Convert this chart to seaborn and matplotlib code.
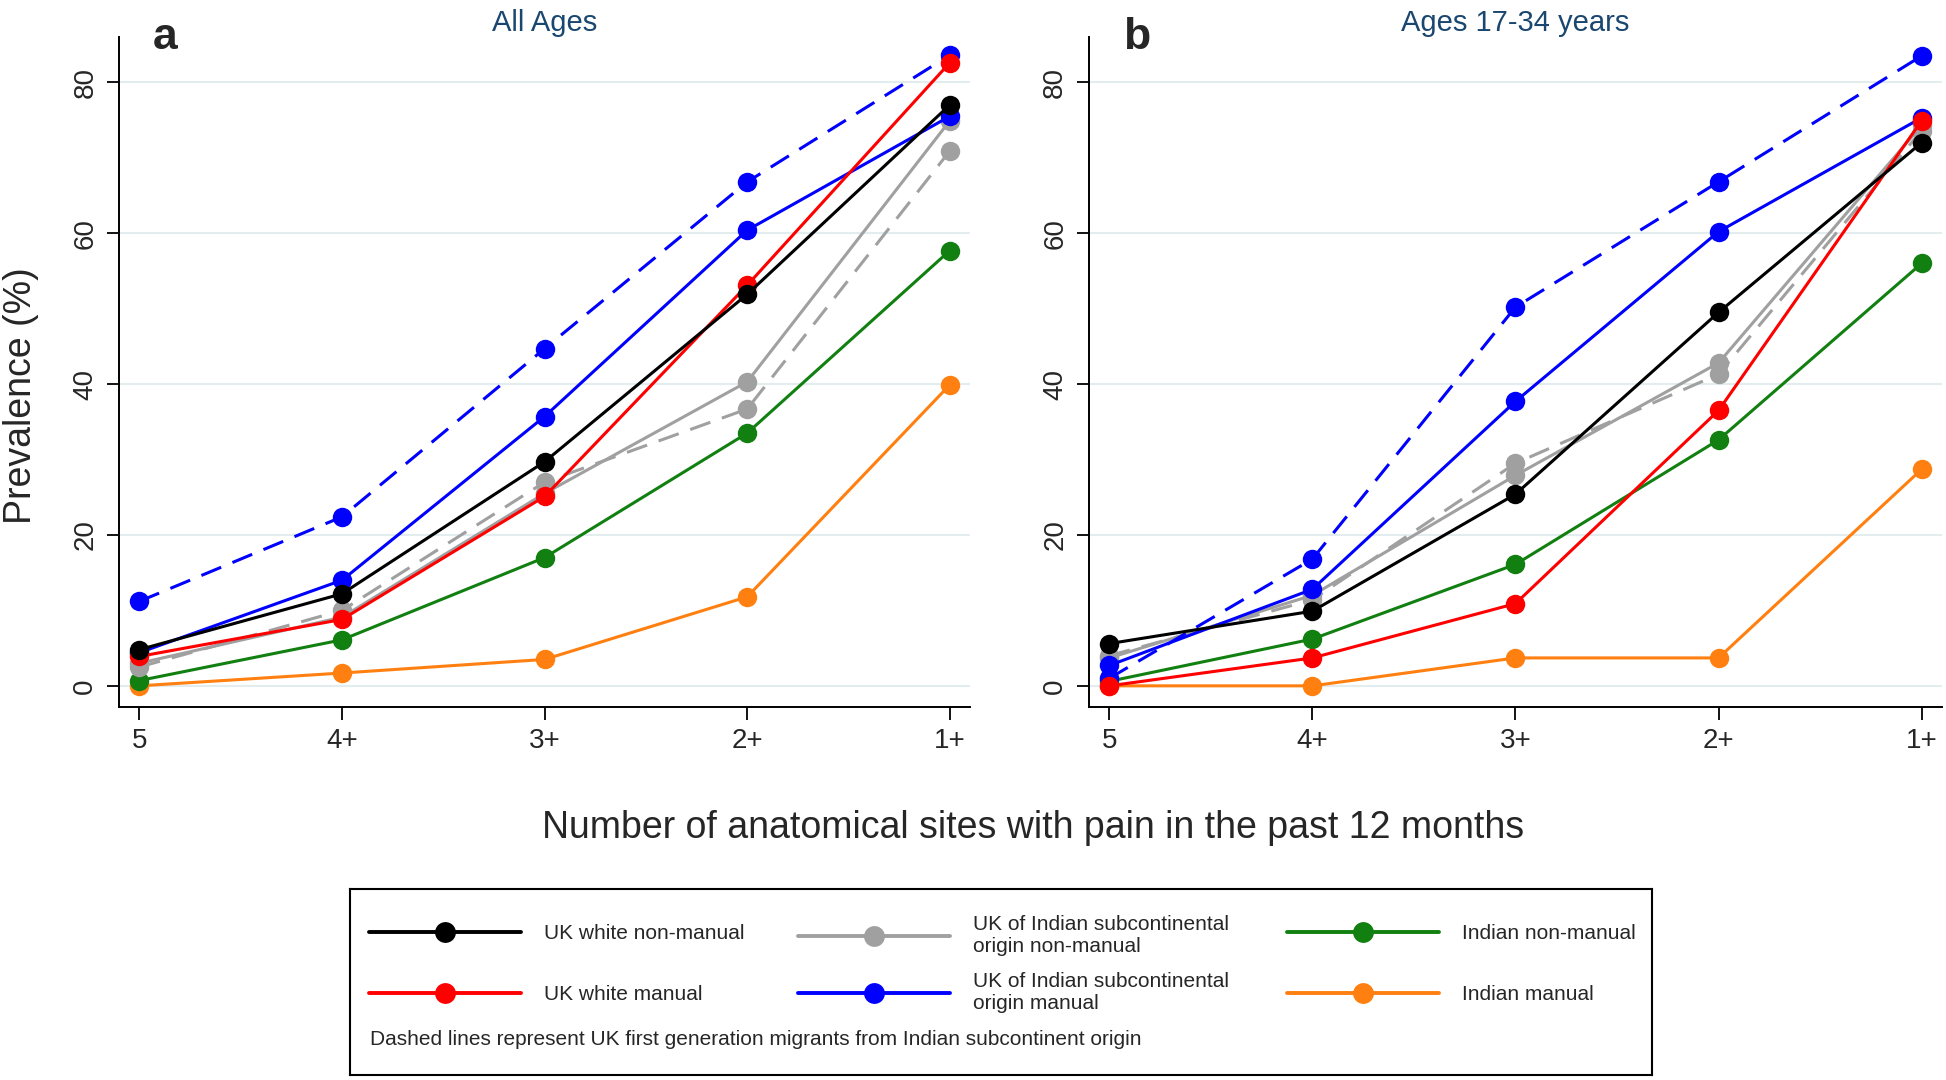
import matplotlib
matplotlib.use('Agg')
import matplotlib.pyplot as plt
import pandas as pd
import seaborn as sns
from matplotlib.lines import Line2D

sites = ['5', '4+', '3+', '2+', '1+']

groups = ['Indian manual', 'Indian non-manual',
          'UK Indian non-manual (migrant)', 'UK Indian non-manual',
          'UK Indian manual (migrant)', 'UK Indian manual',
          'UK white manual', 'UK white non-manual']
colours = ['#ff8010', '#118011', '#a0a0a0', '#a0a0a0',
           '#0000ff', '#0000ff', '#ff0000', '#000000']
dashed = [False, False, True, False, True, False, False, False]

# panel a - all ages (same order as groups)
a_vals = [
    [0.0, 1.7, 3.5, 11.8, 39.9],
    [0.7, 6.1, 17.0, 33.5, 57.7],
    [2.5, 10.0, 27.0, 36.7, 70.9],
    [3.0, 9.1, 25.5, 40.3, 74.9],
    [11.2, 22.4, 44.7, 66.8, 83.6],
    [4.4, 14.0, 35.7, 60.4, 75.5],
    [3.9, 8.8, 25.1, 53.1, 82.6],
    [4.8, 12.2, 29.7, 51.9, 77.0],
]
# panel b - ages 17-34
b_vals = [
    [0.0, 0.0, 3.7, 3.7, 28.7],
    [0.6, 6.2, 16.1, 32.6, 56.0],
    [4.0, 11.4, 29.5, 41.3, 73.6],
    [3.7, 12.0, 27.9, 42.8, 74.3],
    [1.0, 16.8, 50.2, 66.8, 83.5],
    [2.7, 12.8, 37.7, 60.2, 75.3],
    [0.0, 3.7, 10.9, 36.5, 74.9],
    [5.6, 9.9, 25.4, 49.5, 72.0],
]

legend_labels = ['UK white non-manual', 'UK white manual',
                 'UK of Indian subcontinental\norigin non-manual',
                 'UK of Indian subcontinental\norigin manual',
                 'Indian non-manual', 'Indian manual']
legend_colours = ['#000000', '#ff0000', '#a0a0a0', '#0000ff', '#118011', '#ff8010']

sns.set_theme(style='white')
plt.rcParams['font.family'] = ['Liberation Sans Narrow', 'Liberation Sans', 'DejaVu Sans']
navy = '#1a476f'


def long_df(vals):
    rows = []
    for g, v in zip(groups, vals):
        for s, y in zip(sites, v):
            rows.append({'site': s, 'prev': y, 'group': g})
    return pd.DataFrame(rows)


fig = plt.figure(figsize=(19.46, 10.8), dpi=100)
ax_a = fig.add_axes([0.0612, 0.3454, 0.4373, 0.6203])
ax_b = fig.add_axes([0.5596, 0.3454, 0.4383, 0.6203])

pal = dict(zip(groups, colours))
dash_map = {g: ((7, 4) if d else '') for g, d in zip(groups, dashed)}
mark_map = {g: 'o' for g in groups}

for ax, vals, title, letter in [(ax_a, a_vals, 'All Ages', 'a'),
                                (ax_b, b_vals, 'Ages 17-34 years', 'b')]:
    df = long_df(vals)
    sns.lineplot(data=df, x='site', y='prev', hue='group', style='group',
                 hue_order=groups, style_order=groups, palette=pal,
                 dashes=dash_map, markers=mark_map, markersize=14,
                 markeredgewidth=0, linewidth=2.2, sort=False, legend=False, ax=ax)
    ax.set_xlim(-0.1, 4.1)
    ax.set_ylim(-2.8, 86)
    ax.set_yticks([0, 20, 40, 60, 80])
    ax.set_yticklabels(['0', '20', '40', '60', '80'], rotation=90, va='center')
    ax.grid(axis='y', color='#e3ecef', linewidth=1.5)
    ax.set_axisbelow(True)
    for sp in ['top', 'right']:
        ax.spines[sp].set_visible(False)
    for sp in ['left', 'bottom']:
        ax.spines[sp].set_color('black')
        ax.spines[sp].set_linewidth(1.4)
    ax.tick_params(axis='both', which='both', length=9, width=1.3, color='black',
                   labelsize=20, left=True, bottom=True, pad=6)
    ax.set_xlabel('')
    ax.set_ylabel('')
    ax.set_title(title, color=navy, fontsize=21, pad=2)
    ax.text(0.04, 1.0, letter, transform=ax.transAxes, fontsize=32,
            fontweight='bold', family=['Liberation Sans', 'DejaVu Sans'],
            va='center', ha='left')

fig.text(0.531, 0.233, 'Number of anatomical sites with pain in the past 12 months',
         ha='center', va='center', fontsize=27)
fig.text(0.011, 0.634, 'Prevalence (%)', rotation=90, ha='center', va='center', fontsize=27)

# legend box
lax = fig.add_axes([0.1799, 0.0046, 0.669, 0.172])
lax.set_xticks([])
lax.set_yticks([])
lax.set_facecolor('white')
for sp in lax.spines.values():
    sp.set_visible(True)
    sp.set_color('black')
    sp.set_linewidth(1.5)

handles = [Line2D([], [], color=c, linewidth=2.8, marker='o', markersize=15,
                  markeredgewidth=0) for c in legend_colours]
col_x = [0.0146, 0.344, 0.7197]
col_spacing = [2.0, 0.8, 2.0]
legs = []
for i in range(3):
    leg = lax.legend(handles[2 * i:2 * i + 2], legend_labels[2 * i:2 * i + 2],
                     loc='center left', bbox_to_anchor=(col_x[i], 0.597),
                     frameon=False, fontsize=15, handlelength=7.3,
                     handletextpad=1.1, labelspacing=col_spacing[i],
                     borderpad=0, borderaxespad=0, numpoints=1)
    legs.append(leg)
for leg in legs[:-1]:
    lax.add_artist(leg)
lax.text(0.015, 0.19, 'Dashed lines represent UK first generation migrants from Indian subcontinent origin',
         fontsize=15, ha='left', va='center', transform=lax.transAxes)

fig.savefig('out.png', dpi=100)
